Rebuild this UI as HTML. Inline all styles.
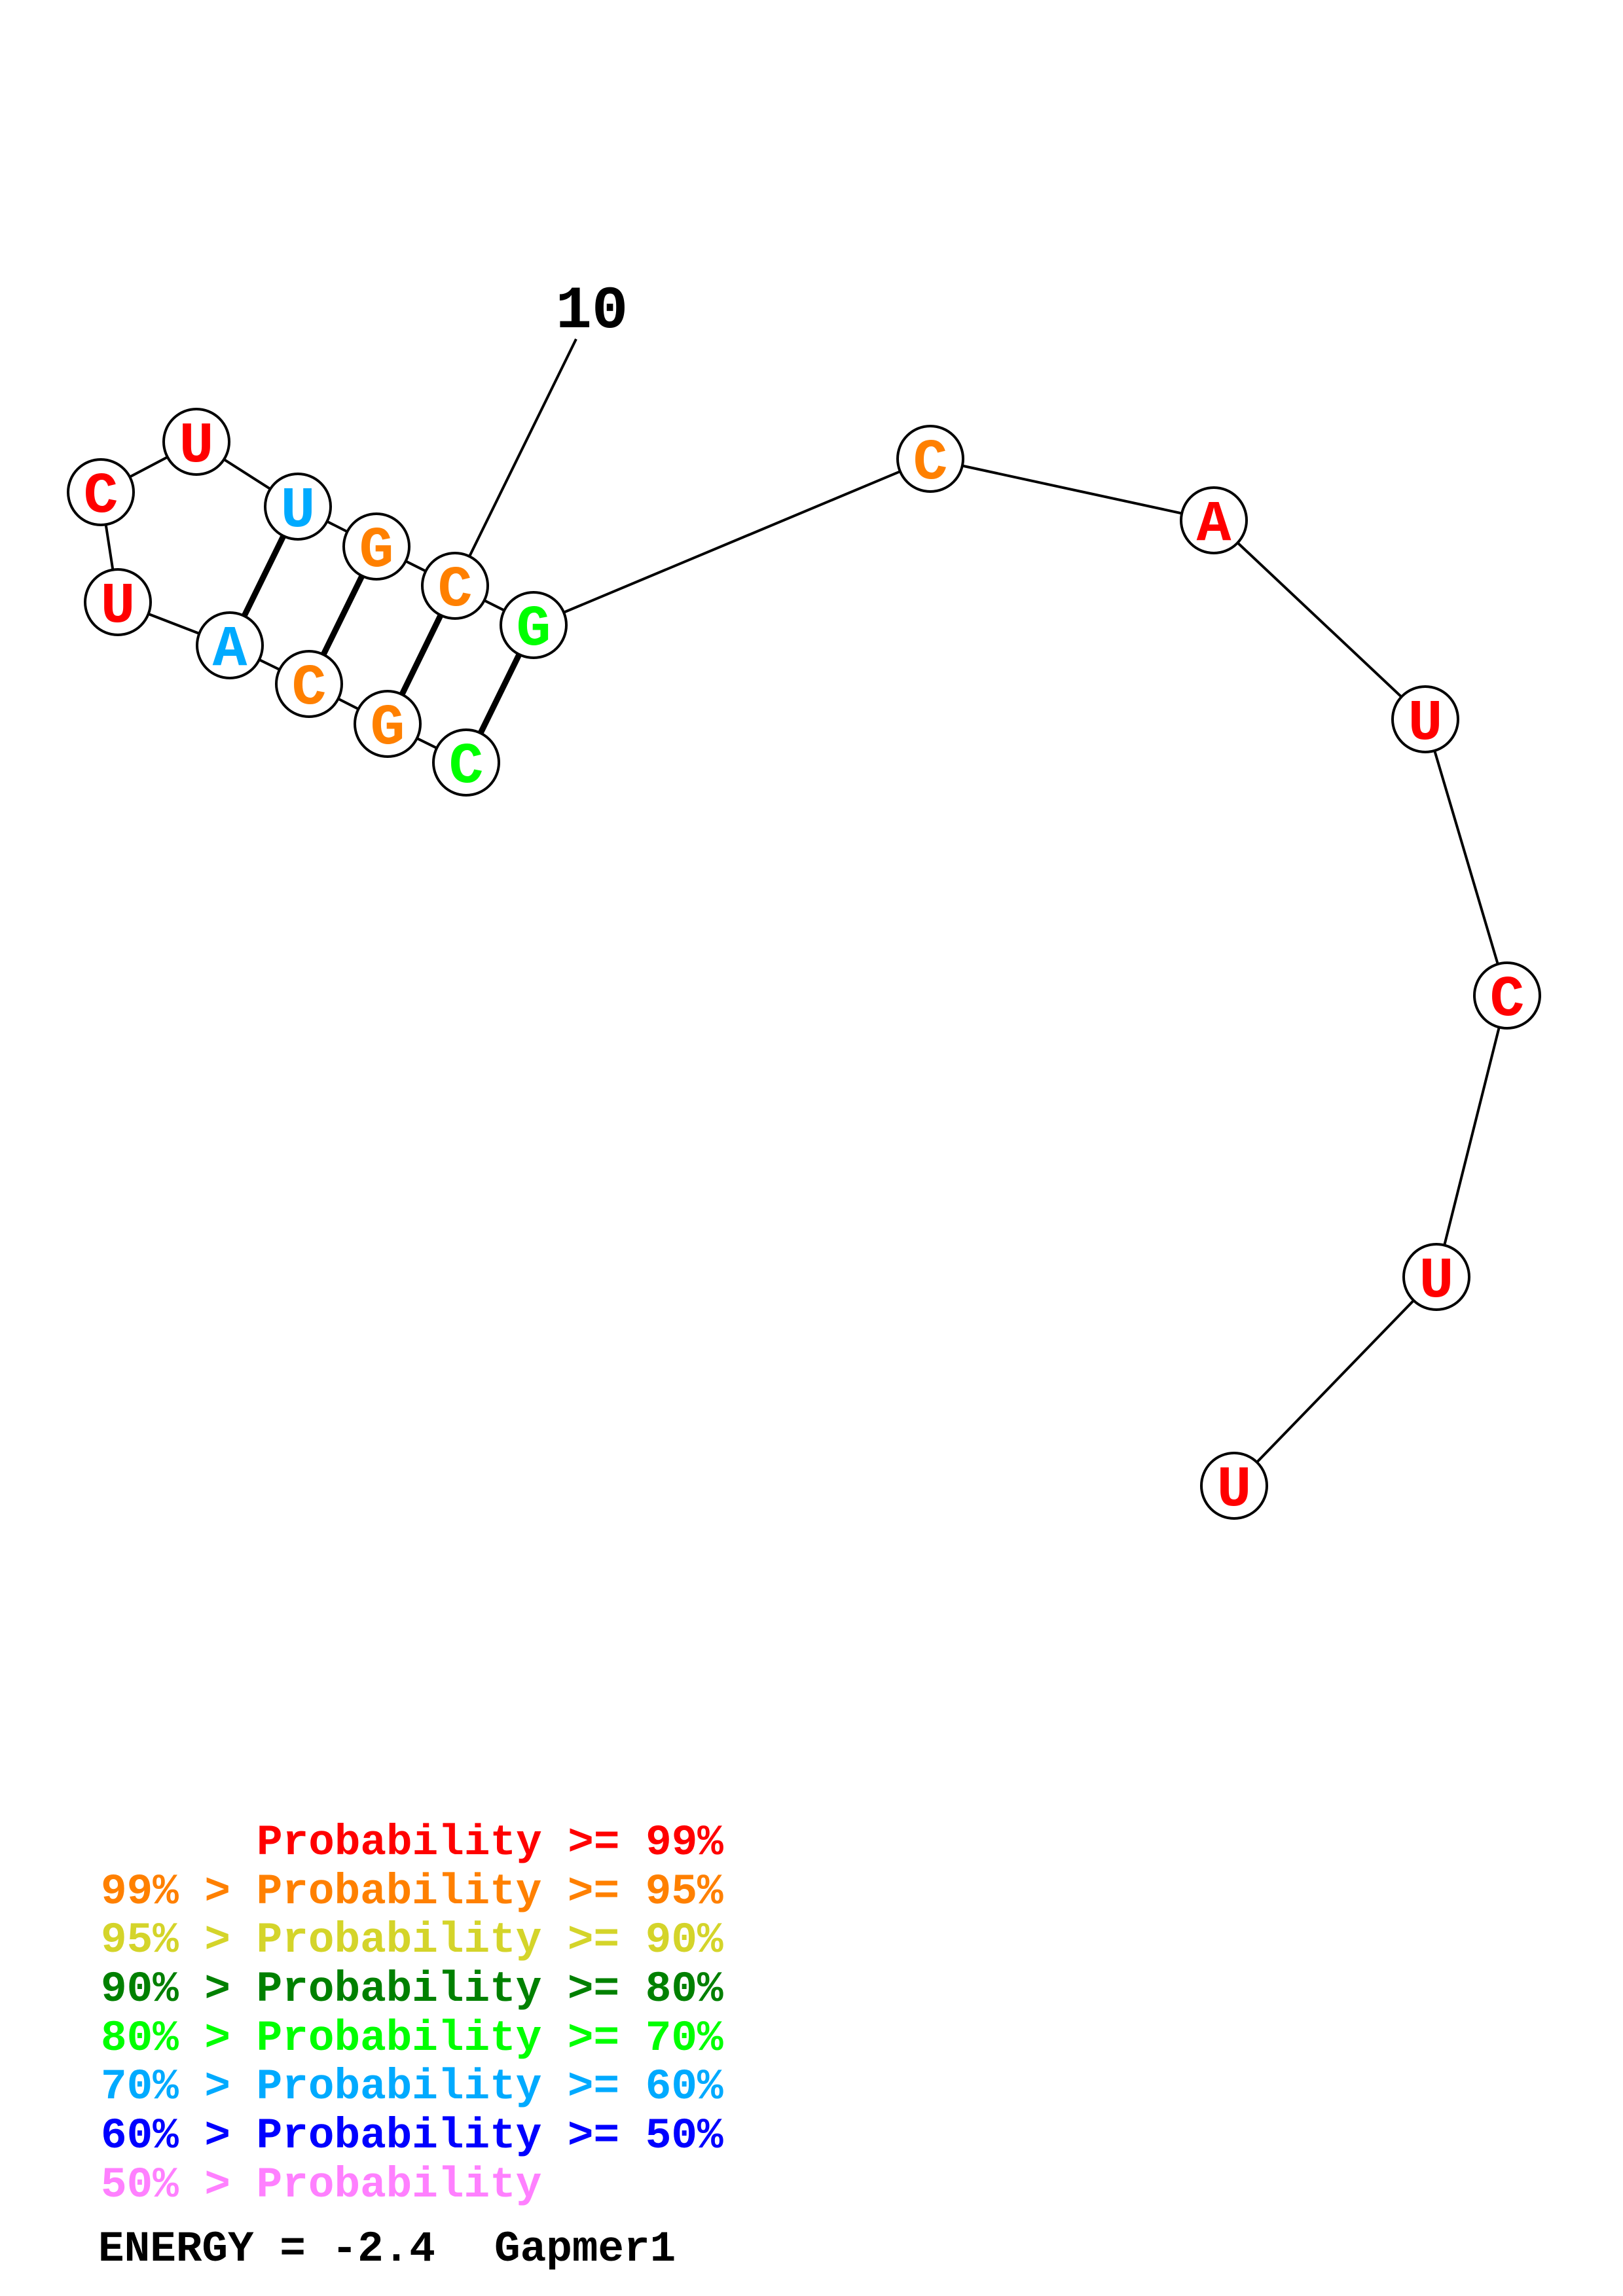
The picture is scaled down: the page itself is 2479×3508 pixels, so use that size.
<!DOCTYPE html>
<html><head><meta charset="utf-8"><style>html,body{margin:0;padding:0;background:#fff}svg{display:block}text{white-space:pre}</style></head><body>
<svg width="2479" height="3508" viewBox="0 0 2479 3508" xmlns="http://www.w3.org/2000/svg">
<g stroke="#000" stroke-width="4" fill="none">
<polyline points="300,675 154,752 180,920 351,986 472,1045 592,1106 712,1165"/>
<polyline points="300,675 455,774 575,835 695,895 815,955 1421,701 1854,795 2177,1099 2302,1521 2194,1951 1885,2270"/>
<line x1="880" y1="518" x2="695" y2="895"/>
</g>
<g stroke="#000" stroke-width="9">
<line x1="455" y1="774" x2="351" y2="986"/>
<line x1="575" y1="835" x2="472" y2="1045"/>
<line x1="695" y1="895" x2="592" y2="1106"/>
<line x1="815" y1="955" x2="712" y2="1165"/>
</g>
<g stroke="#000" stroke-width="4" fill="#fff">
<circle cx="300" cy="675" r="50"/><circle cx="154" cy="752" r="50"/><circle cx="180" cy="920" r="50"/>
<circle cx="351" cy="986" r="50"/><circle cx="472" cy="1045" r="50"/><circle cx="592" cy="1106" r="50"/>
<circle cx="712" cy="1165" r="50"/><circle cx="455" cy="774" r="50"/><circle cx="575" cy="835" r="50"/>
<circle cx="695" cy="895" r="50"/><circle cx="815" cy="955" r="50"/><circle cx="1421" cy="701" r="50"/>
<circle cx="1854" cy="795" r="50"/><circle cx="2177" cy="1099" r="50"/><circle cx="2302" cy="1521" r="50"/>
<circle cx="2194" cy="1951" r="50"/><circle cx="1885" cy="2270" r="50"/>
</g>
<g font-family="Liberation Mono, monospace" font-weight="bold" font-size="88" text-anchor="middle">
<text x="300" y="705" fill="#ff0000">U</text>
<text x="154" y="782" fill="#ff0000">C</text>
<text x="180" y="950" fill="#ff0000">U</text>
<text x="351" y="1016" fill="#00aaff">A</text>
<text x="472" y="1075" fill="#ff8000">C</text>
<text x="592" y="1136" fill="#ff8000">G</text>
<text x="712" y="1195" fill="#00ff00">C</text>
<text x="455" y="804" fill="#00aaff">U</text>
<text x="575" y="865" fill="#ff8000">G</text>
<text x="695" y="925" fill="#ff8000">C</text>
<text x="815" y="985" fill="#00ff00">G</text>
<text x="1421" y="731" fill="#ff8000">C</text>
<text x="1854" y="825" fill="#ff0000">A</text>
<text x="2177" y="1129" fill="#ff0000">U</text>
<text x="2302" y="1551" fill="#ff0000">C</text>
<text x="2194" y="1981" fill="#ff0000">U</text>
<text x="1885" y="2300" fill="#ff0000">U</text>
<text x="904" y="500" fill="#000" font-size="92">10</text>
</g>
<g font-family="Liberation Mono, monospace" font-weight="bold" font-size="66">
<text x="392" y="2833" fill="#ff0000">Probability &gt;= 99%</text>
<text x="154" y="2908" fill="#ff8000">99% &gt; Probability &gt;= 95%</text>
<text x="154" y="2982" fill="#d4d42a">95% &gt; Probability &gt;= 90%</text>
<text x="154" y="3057" fill="#008000">90% &gt; Probability &gt;= 80%</text>
<text x="154" y="3132" fill="#00ff00">80% &gt; Probability &gt;= 70%</text>
<text x="154" y="3206" fill="#00aaff">70% &gt; Probability &gt;= 60%</text>
<text x="154" y="3281" fill="#0000ff">60% &gt; Probability &gt;= 50%</text>
<text x="154" y="3356" fill="#ff80ff">50% &gt; Probability</text>
<text x="150" y="3454" fill="#000">ENERGY = -2.4</text>
<text x="755" y="3454" fill="#000">Gapmer1</text>
</g>
</svg>
</body></html>
